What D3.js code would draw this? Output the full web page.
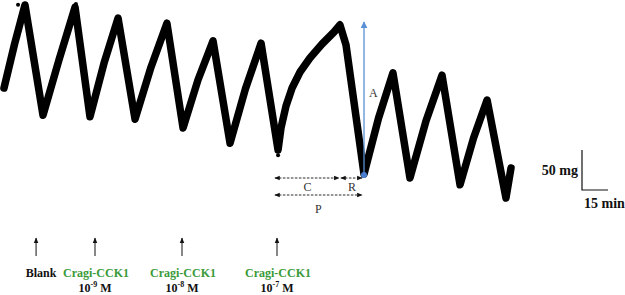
<!DOCTYPE html>
<html>
<head>
<meta charset="utf-8">
<script src="https://cdn.jsdelivr.net/npm/d3@7"></script>
<style>
  body { margin: 0; background: #fff; }
  text { font-family: "Liberation Serif", "DejaVu Serif", serif; }
</style>
</head>
<body>
<div id="chart"></div>
<script>
var width = 625, height = 295;

// trace vertices: time (min) and tension (mg)
var traceTime = [0, 6.1, 12.1, 22.5, 31.7, 41, 49.6, 57.7, 65.8, 75.6, 84.8, 94, 103.3, 111.9, 120.6,
    130.4, 139.3, 148.3, 158.1, 159.8, 162.7, 166.2, 170.8, 176.5, 183.5, 190.4, 193.8, 197.3, 207.7,
    216.1, 224.4, 234.2, 243.5, 252.7, 263.1, 270.9, 278.7, 289.6, 292.5];
var traceTension = [140, 195, 243.8, 106, 175, 241, 104, 171, 227.5, 101, 166, 221, 90, 150, 199,
    71, 139, 196, 62.5, 90, 117.5, 140, 160, 177.5, 195, 210, 219, 194, 32.5,
    102.5, 159, 27.5, 99, 156, 19, 77.5, 125, 2.5, 40];

// stray points on the recording
var dotTime = [8.1, 41.5, 158.1];
var dotTension = [244, 245, 56];

// additions (arrows below the trace)
var addTime = [18.5, 52.5, 102.7, 157.5];
var addLabel = ["Blank", "Cragi-CCK1", "Cragi-CCK1", "Cragi-CCK1"];
var addConc = ["", "-9", "-8", "-7"];

// one analysed cycle: contraction start, peak, relaxation end
var cycleStart = 156.3, cyclePeak = 193.8, cycleEnd = 207.7;
var cycleLow = 32.5, cycleTop = 222.5;

// scale bar
var barTension = 50, barTime = 15;

var x = d3.scaleLinear().domain([0, 300]).range([4, 524]);
var y = d3.scaleLinear().domain([0, 250]).range([200, 0]);

var svg = d3.select("#chart").append("svg")
    .attr("width", width)
    .attr("height", height);

var defs = svg.append("defs");
defs.append("marker")
    .attr("id", "head")
    .attr("viewBox", "0 0 10 10")
    .attr("refX", 9).attr("refY", 5)
    .attr("markerWidth", 6).attr("markerHeight", 6)
    .attr("orient", "auto-start-reverse")
    .append("path").attr("d", "M0,1 L10,5 L0,9 Z").attr("fill", "#111");
defs.append("marker")
    .attr("id", "bluehead")
    .attr("viewBox", "0 0 10 10")
    .attr("refX", 9).attr("refY", 5)
    .attr("markerWidth", 7).attr("markerHeight", 7)
    .attr("markerUnits", "userSpaceOnUse")
    .attr("orient", "auto")
    .append("path").attr("d", "M0,0 L10,5 L0,10 Z").attr("fill", "#5b8fd6");

var trace = traceTime.map(function(t, i) { return {t: t, v: traceTension[i]}; });

var line = d3.line()
    .curve(d3.curveLinear)
    .x(function(d) { return x(d.t); })
    .y(function(d) { return y(d.v); });

svg.append("path")
    .datum(trace)
    .attr("d", line)
    .attr("fill", "none")
    .attr("stroke", "#000")
    .attr("stroke-width", 7.5)
    .attr("stroke-linejoin", "round")
    .attr("stroke-linecap", "round");

svg.selectAll(".dot")
    .data(dotTime)
    .enter().append("circle")
    .attr("cx", function(d) { return x(d); })
    .attr("cy", function(d, i) { return y(dotTension[i]); })
    .attr("r", 2)
    .attr("fill", "#000");

// amplitude arrow
svg.append("line")
    .attr("x1", x(cycleEnd)).attr("x2", x(cycleEnd))
    .attr("y1", y(cycleLow)).attr("y2", y(cycleTop))
    .attr("stroke", "#5b8fd6")
    .attr("stroke-width", 1.3)
    .attr("marker-end", "url(#bluehead)");
svg.append("circle")
    .attr("cx", x(cycleEnd)).attr("cy", y(cycleLow) + 1)
    .attr("r", 3)
    .attr("fill", "#4a7fd0");
svg.append("text")
    .attr("x", x(cycleEnd) + 5).attr("y", y((cycleLow + cycleTop) / 2) - 1)
    .attr("font-size", 12).attr("fill", "#333")
    .text("A");

// C, R, P durations
var yC = 178, yP = 195;
function dashed(x1, x2, yy) {
    svg.append("line")
        .attr("x1", x1).attr("x2", x2)
        .attr("y1", yy).attr("y2", yy)
        .attr("stroke", "#111")
        .attr("stroke-width", 0.9)
        .attr("stroke-dasharray", "2.5,1.5")
        .attr("marker-start", "url(#head)")
        .attr("marker-end", "url(#head)");
}
dashed(x(cycleStart), x(cyclePeak) - 1, yC);
dashed(x(cyclePeak) + 1, x(cycleEnd) - 2, yC);
dashed(x(cycleStart), x(cycleEnd) - 2, yP);

svg.append("text").attr("x", (x(cycleStart) + x(cyclePeak)) / 2).attr("y", yC + 13)
    .attr("text-anchor", "middle").attr("font-size", 12).attr("fill", "#333").text("C");
svg.append("text").attr("x", (x(cyclePeak) + x(cycleEnd)) / 2).attr("y", yC + 13)
    .attr("text-anchor", "middle").attr("font-size", 12).attr("fill", "#333").text("R");
svg.append("text").attr("x", (x(cycleStart) + x(cycleEnd)) / 2 - 1).attr("y", yP + 18)
    .attr("text-anchor", "middle").attr("font-size", 12).attr("fill", "#333").text("P");

// scale bar
var bx = 582, by = 190;
var barH = y(0) - y(barTension);
var barW = x(barTime) - x(0);
svg.append("path")
    .attr("d", "M" + bx + "," + (by - barH) + " L" + bx + "," + by + " L" + (bx + barW) + "," + by)
    .attr("fill", "none")
    .attr("stroke", "#111")
    .attr("stroke-width", 1.2);
svg.append("text")
    .attr("x", bx - 4).attr("y", by - barH / 2 + 5)
    .attr("text-anchor", "end")
    .attr("font-size", 14).attr("font-weight", "bold").attr("fill", "#111")
    .text(barTension + " mg");
svg.append("text")
    .attr("x", bx + 2).attr("y", by + 18)
    .attr("font-size", 14).attr("font-weight", "bold").attr("fill", "#111")
    .text(barTime + " min");

// additions
var adds = svg.selectAll(".add")
    .data(addTime)
    .enter().append("g")
    .attr("class", "add")
    .attr("transform", function(d) { return "translate(" + x(d) + ",0)"; });

adds.append("line")
    .attr("x1", 0).attr("x2", 0)
    .attr("y1", 256).attr("y2", 238)
    .attr("stroke", "#111")
    .attr("stroke-width", 1)
    .attr("marker-end", "url(#head)");

adds.append("text")
    .attr("x", function(d, i) { return i == 0 ? 5 : 1; })
    .attr("y", 277)
    .attr("text-anchor", "middle")
    .attr("font-size", 12)
    .attr("font-weight", "bold")
    .attr("fill", function(d, i) { return i == 0 ? "#111" : "#3a9a3a"; })
    .text(function(d, i) { return addLabel[i]; });

var conc = adds.filter(function(d, i) { return addConc[i] != ""; })
    .append("text")
    .attr("x", 0)
    .attr("y", 292)
    .attr("text-anchor", "middle")
    .attr("font-size", 12)
    .attr("font-weight", "bold")
    .attr("fill", "#111");
conc.append("tspan").text("10");
conc.append("tspan")
    .attr("font-size", 8).attr("dy", -5)
    .text(function(d) { return addConc[addTime.indexOf(d)]; });
conc.append("tspan").attr("dy", 5).text(" M");
</script>
</body>
</html>
